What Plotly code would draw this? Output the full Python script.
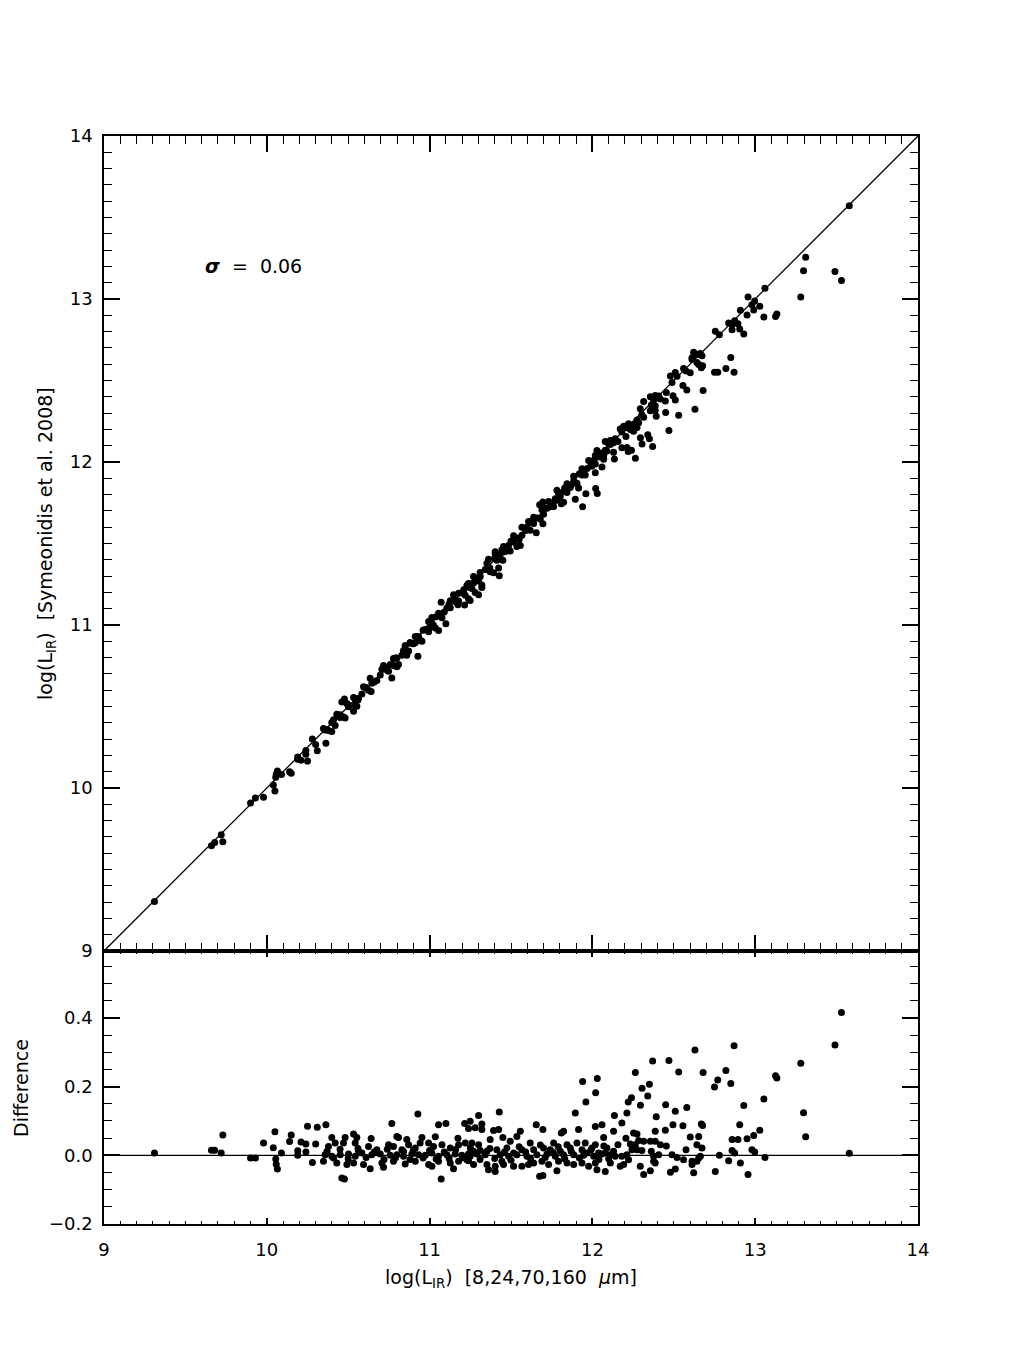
import numpy as np
import plotly.graph_objects as go

# log(L_IR) from 8,24,70,160 um fit, and difference (this - Symeonidis et al. 2008)
lir_fit = [
    9.31, 9.66, 9.68, 9.72, 9.73, 9.90, 9.93, 9.98, 10.04, 10.05,
    10.055, 10.058, 10.065, 10.09, 10.14, 10.15, 10.19, 10.19, 10.21, 10.24,
    10.24, 10.25, 10.28, 10.30, 10.31,
    # 10.34 - 11.23
    10.363, 10.768, 10.928, 11.055, 11.100, 11.215, 11.239, 10.399, 10.481, 10.533,
    10.553, 10.641, 10.799, 10.809, 10.860, 10.953, 11.035, 11.174,
    10.379, 10.420, 10.471, 10.543, 10.563, 10.625, 10.676, 10.748, 10.778, 10.830,
    10.871, 10.912, 10.942, 10.994, 11.024, 11.076, 11.127, 11.178, 11.219, 11.250,
    10.358, 10.399, 10.451, 10.502, 10.543, 10.584, 10.645, 10.697, 10.758, 10.799,
    10.840, 10.891, 10.932, 10.973, 11.014, 11.055, 11.106, 11.157, 11.198, 11.239,
    10.348, 10.430, 10.492, 10.533, 10.594, 10.707, 10.778, 10.850, 10.912, 10.994,
    11.055, 11.127, 11.178, 11.229, 10.635, 10.717, 11.014, 11.147, 10.461, 10.477,
    11.071,
    # 11.23 - 12.15
    11.301, 11.428, 11.895, 12.135, 11.249, 11.321, 11.280, 11.321, 11.393, 11.424,
    11.655, 11.696, 11.809, 11.823, 11.915, 12.018, 12.059, 12.069, 12.130, 11.557,
    11.536, 11.450, 11.372, 11.260, 11.301, 11.495, 11.618, 11.762, 11.844, 11.905,
    11.956, 11.997, 12.018, 12.089, 12.130,
    11.311, 11.352, 11.413, 11.475, 11.516, 11.567, 11.639, 11.700, 11.741, 11.803,
    11.864, 11.936, 11.967, 12.038, 12.079,
    11.249, 11.290, 11.342, 11.434, 11.485, 11.536, 11.598, 11.659, 11.721, 11.772,
    11.823, 11.885, 11.946, 12.008, 12.059, 12.110,
    11.239, 11.270, 11.352, 11.403, 11.444, 11.454, 11.516, 11.567, 11.608, 11.639,
    11.690, 11.731, 11.792, 11.844, 11.885, 11.936, 11.977, 12.018, 12.110,
    11.362, 11.403, 11.782, 12.028, 12.079, 11.676, 11.696,
    # dense core of the band
    10.37, 10.41, 10.45, 10.50, 10.56, 10.61, 10.66, 10.72, 10.74, 10.79,
    10.84, 10.88, 10.90, 10.96, 11.00, 11.04, 11.09, 11.12, 11.16, 11.21,
    11.27, 11.31, 11.37, 11.40, 11.46, 11.50, 11.55, 11.59, 11.62, 11.68,
    11.71, 11.76, 11.79, 11.83, 11.87, 11.92, 11.99, 12.04, 12.07, 12.10,
    # 12.12 - 13.04
    12.212, 12.392, 12.509, 12.181, 12.495, 12.556, 12.669, 12.677, 12.905, 13.028,
    12.386, 12.448, 12.253, 12.274, 12.206, 12.233, 12.263, 12.284, 12.315, 12.356,
    12.386, 12.417, 12.454, 12.157, 12.601, 12.653, 12.575, 12.642, 12.673, 12.858,
    12.894, 12.950, 12.991, 12.858, 12.874, 12.980, 12.997,
    12.140, 12.181, 12.212, 12.243, 12.274, 12.304, 12.362, 12.376, 12.407, 12.489,
    12.520, 12.560, 12.612, 12.653, 12.663, 12.780, 12.837, 12.909,
    12.171, 12.192, 12.222, 12.294, 12.315, 12.356, 12.376, 12.386, 12.479, 12.509,
    12.612, 12.622, 12.642, 12.755, 12.956,
    # large positive offsets
    11.94, 12.03, 12.02, 11.96, 12.22, 12.24, 12.264, 12.295, 12.305, 12.34,
    12.35, 12.37, 12.47, 12.53, 12.45, 12.58, 12.63, 12.68, 12.75, 12.77,
    12.82, 12.85, 12.87, 12.93,
    # brightest sources
    13.053, 13.125, 13.133, 13.28, 13.297, 13.31, 13.49, 13.53, 13.578, 13.06,
]

difference = [
    0.007, 0.015, 0.015, 0.007, 0.059, -0.008, -0.008, 0.036, 0.022, 0.069,
    -0.011, -0.026, -0.040, 0.007, 0.040, 0.059, 0.000, 0.013, 0.039, 0.033,
    0.010, 0.085, -0.021, 0.033, 0.082,
    0.089, 0.093, 0.120, 0.089, 0.093, 0.093, 0.078, 0.052, 0.052, 0.062,
    0.052, 0.049, 0.055, 0.052, 0.046, 0.052, 0.054, 0.050,
    0.026, 0.036, 0.036, 0.036, 0.012, 0.026, 0.016, 0.031, 0.026, 0.016,
    0.031, 0.021, 0.036, 0.036, 0.026, 0.031, 0.021, 0.031, 0.036, 0.021,
    0.002, -0.003, 0.002, 0.004, -0.003, 0.007, 0.002, 0.004, 0.000, 0.002,
    -0.003, 0.004, 0.002, 0.000, 0.007, -0.003, 0.002, 0.004, 0.000, 0.004,
    -0.017, -0.022, -0.027, -0.022, -0.027, -0.022, -0.017, -0.025, -0.017, -0.027,
    -0.017, -0.022, -0.017, -0.013, -0.039, -0.035, -0.032, -0.039, -0.066, -0.069,
    -0.069,
    0.116, 0.126, 0.123, 0.116, 0.099, 0.091, 0.080, 0.075, 0.072, 0.075,
    0.089, 0.075, 0.065, 0.070, 0.075, 0.084, 0.089, 0.052, 0.070, 0.070,
    0.055, 0.052, 0.046, 0.036, 0.031, 0.041, 0.036, 0.036, 0.031, 0.036,
    0.036, 0.021, 0.031, 0.021, 0.012,
    0.014, 0.012, 0.016, 0.021, 0.007, 0.016, 0.016, 0.021, 0.016, 0.012,
    0.021, 0.016, 0.007, 0.007, 0.007,
    -0.003, 0.004, 0.002, 0.002, -0.003, 0.002, -0.003, 0.002, 0.004, -0.003,
    0.002, 0.002, 0.000, -0.003, 0.004, 0.002,
    -0.016, -0.027, -0.027, -0.032, -0.017, -0.027, -0.032, -0.032, -0.027, -0.022,
    -0.017, -0.027, -0.017, -0.022, -0.027, -0.022, -0.032, -0.022, -0.022,
    -0.042, -0.047, -0.045, -0.042, -0.047, -0.061, -0.059,
    0.012, -0.008, 0.018, -0.010, 0.020, -0.006, 0.010, -0.012, 0.018, -0.007,
    0.011, -0.012, 0.015, -0.008, 0.014, -0.011, 0.010, -0.009, 0.017, -0.007,
    0.012, -0.012, 0.020, -0.009, 0.010, -0.014, 0.025, 0.010, -0.010, 0.030,
    -0.006, 0.008, 0.025, -0.010, 0.012, -0.008, 0.015, -0.012, 0.027, -0.010,
    0.123, 0.112, 0.128, 0.094, 0.089, 0.086, 0.091, 0.087, 0.089, 0.073,
    0.070, 0.073, 0.065, 0.062, 0.050, 0.033, 0.031, 0.043, 0.041, 0.041,
    0.041, 0.031, 0.027, 0.031, 0.053, 0.055, 0.016, 0.031, 0.021, 0.046,
    0.046, 0.048, 0.058, 0.014, 0.007, 0.016, 0.010,
    -0.003, -0.003, 0.002, 0.016, 0.016, 0.014, 0.012, -0.003, 0.002, 0.002,
    -0.006, -0.013, -0.017, -0.008, -0.003, 0.000, -0.016, -0.022,
    -0.032, -0.027, -0.013, -0.032, -0.056, -0.045, -0.017, -0.022, -0.049, -0.040,
    -0.027, -0.051, -0.017, -0.047, -0.056,
    0.215, 0.224, 0.182, 0.155, 0.155, 0.168, 0.241, 0.146, 0.195, 0.173,
    0.207, 0.275, 0.276, 0.243, 0.147, 0.139, 0.307, 0.241, 0.199, 0.219,
    0.247, 0.209, 0.319, 0.145,
    0.164, 0.232, 0.225, 0.268, 0.124, 0.054, 0.321, 0.416, 0.006, -0.006,
]

x_range = [9, 14]
diff_range = [-0.2, 0.595]
y_ticks = [9, 10, 11, 12, 13, 14]
diff_ticks = [-0.2, 0.0, 0.2, 0.4]
sigma_text = "<b><i>σ</i></b>  =  0.06"

lir_fit = np.array(lir_fit)
difference = np.array(difference)
lir_sym = lir_fit - difference

FONT = "DejaVu Sans"
BLACK = "black"

fig = go.Figure()

fig.add_trace(go.Scatter(
    x=x_range, y=x_range, mode="lines",
    line=dict(color=BLACK, width=1.3),
    xaxis="x", yaxis="y", hoverinfo="skip", showlegend=False,
))
fig.add_trace(go.Scatter(
    x=lir_fit, y=lir_sym, mode="markers",
    marker=dict(color=BLACK, size=7, line=dict(width=0)),
    xaxis="x", yaxis="y", showlegend=False,
))
fig.add_trace(go.Scatter(
    x=x_range, y=[0, 0], mode="lines",
    line=dict(color=BLACK, width=1.3),
    xaxis="x2", yaxis="y2", hoverinfo="skip", showlegend=False,
))
fig.add_trace(go.Scatter(
    x=lir_fit, y=difference, mode="markers",
    marker=dict(color=BLACK, size=7, line=dict(width=0)),
    xaxis="x2", yaxis="y2", showlegend=False,
))

split = 273 / 1088
axis_common = dict(
    showline=True, linecolor=BLACK, linewidth=1.5, mirror="ticks",
    ticks="inside", tickcolor=BLACK, tickwidth=1.5,
    showgrid=False, zeroline=False,
    tickfont=dict(family=FONT, size=18, color=BLACK),
)

fig.update_layout(
    width=1020, height=1360,
    margin=dict(l=96, r=110, t=128, b=144),
    paper_bgcolor="white", plot_bgcolor="white",
    font=dict(family=FONT, size=18, color=BLACK),
    xaxis=dict(
        **axis_common, range=x_range, anchor="y", showticklabels=False,
        dtick=1, ticklen=16,
        minor=dict(ticks="inside", ticklen=8, dtick=0.1, tickcolor=BLACK, tickwidth=1.2),
    ),
    yaxis=dict(
        **axis_common, range=x_range, domain=[split, 1], anchor="x",
        tickvals=y_ticks, ticklen=16, ticklabelstandoff=6,
        minor=dict(ticks="inside", ticklen=8, dtick=0.1, tickcolor=BLACK, tickwidth=1.2),
    ),
    xaxis2=dict(
        **axis_common, range=x_range, anchor="y2", matches="x",
        dtick=1, ticklen=6, ticklabelstandoff=9,
        minor=dict(ticks="inside", ticklen=3, dtick=0.1, tickcolor=BLACK, tickwidth=1.2),
    ),
    yaxis2=dict(
        **axis_common, range=diff_range, domain=[0, split], anchor="x2",
        tickvals=diff_ticks, tickformat=".1f", ticklen=16, ticklabelstandoff=6,
        minor=dict(ticks="inside", ticklen=8, dtick=0.05, tickcolor=BLACK, tickwidth=1.2),
    ),
)

fig.add_annotation(
    x=9.61, y=13.2, xref="x", yref="y", text=sigma_text, showarrow=False,
    xanchor="left", yanchor="middle", font=dict(family=FONT, size=19, color=BLACK),
)
fig.add_annotation(
    x=0.5, y=-54 / 1088, xref="paper", yref="paper",
    text="log(L<sub>IR</sub>)  [8,24,70,160  <i>μ</i>m]", showarrow=False,
    xanchor="center", yanchor="middle", font=dict(family=FONT, size=19, color=BLACK),
)
fig.add_annotation(
    x=-58 / 814, y=(1223 - 543) / 1088, xref="paper", yref="paper",
    text="log(L<sub>IR</sub>)  [Symeonidis et al. 2008]", showarrow=False, textangle=-90,
    xanchor="center", yanchor="middle", font=dict(family=FONT, size=19, color=BLACK),
)
fig.add_annotation(
    x=-83 / 814, y=(1223 - 1087) / 1088, xref="paper", yref="paper",
    text="Difference", showarrow=False, textangle=-90,
    xanchor="center", yanchor="middle", font=dict(family=FONT, size=19, color=BLACK),
)

fig.write_html("out.html")
